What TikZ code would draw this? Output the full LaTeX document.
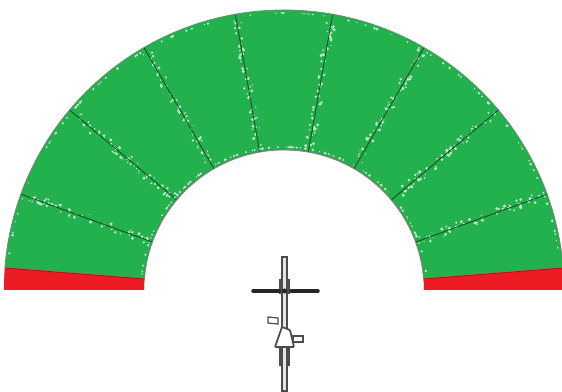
\documentclass[tikz,border=0pt]{standalone}
\usetikzlibrary{calc}
\definecolor{zonegreen}{RGB}{34,177,76}
\definecolor{zonered}{RGB}{237,28,36}
\begin{document}
\begin{tikzpicture}[
    x=0.02cm, y=0.02cm,
    rim/.style = {draw=black!50, line width=0.45pt},
    deadzone/.style = {fill=zonered},
    deadedge/.style = {draw=zonered!65!black, line width=0.4pt},
    divider/.style = {draw=black!65!zonegreen, line width=0.4pt},
    speckle/.style = {fill=white!70!zonegreen},
    frame/.style = {draw=black!70, fill=white!90!black, line width=0.7pt},
    bar/.style = {draw=black!85, line width=2pt, line cap=round},
    stem/.style = {draw=black!70, line width=1.4pt},
  ]
    \useasboundingbox (-284,-102) rectangle (278,290);
    \pgfmathsetseed{4711}

    % ring
    \fill[zonegreen] (180:280) arc[start angle=180, end angle=0, radius=280]
      -- (0:140) arc[start angle=0, end angle=180, radius=140] -- cycle;

    % white flecks along the sector lines and the rims
    \foreach \a in {20,40,60,80,100,120,140,160} {
      \foreach \k in {1,...,55} {
        \pgfmathsetmacro{\r}{145+130*rnd}
        \pgfmathsetmacro{\d}{9*rnd-4.5}
        \pgfmathsetmacro{\s}{0.6+1.1*rnd}
        \fill[speckle] ($(\a:\r)+(\a+90:\d)$) circle[radius=\s];
      }
      \draw[divider] (\a:140) -- (\a:280);
    }
    \foreach \k in {1,...,90} {
      \pgfmathsetmacro{\a}{6+168*rnd}
      \pgfmathsetmacro{\s}{0.6+0.9*rnd}
      \fill[speckle] (\a:277) circle[radius=\s];
      \pgfmathsetmacro{\a}{6+168*rnd}
      \fill[speckle] (\a:143) circle[radius=\s];
    }
    \draw[rim] (175.5:280) arc[start angle=175.5, end angle=4.5, radius=280];
    \draw[rim] (175.5:140) arc[start angle=175.5, end angle=4.5, radius=140];

    % blocked ends
    \fill[deadzone] (180:280) arc[start angle=180, end angle=175.5, radius=280]
      -- (175.5:140) arc[start angle=175.5, end angle=180, radius=140] -- cycle;
    \fill[deadzone] (0:280) arc[start angle=0, end angle=4.5, radius=280]
      -- (4.5:140) arc[start angle=4.5, end angle=0, radius=140] -- cycle;
    \draw[deadedge] (175.5:280) -- (175.5:140);
    \draw[deadedge] (4.5:280) -- (4.5:140);

    % bicycle
    \draw[stem] (-4,-4) -- (-4,11);
    \draw[stem] (5,-4) -- (5,11);
    \draw[stem] (-4,-56) -- (-4,-76);
    \draw[stem] (5,-56) -- (5,-76);
    \draw[frame] (-2,33) rectangle (3,-101);
    \draw[bar] (-31,-1) -- (-5,-1);
    \draw[bar] (7,-1) -- (34,-1);
    \fill[black!85] (0.5,-1) circle[radius=2.5];
    \draw[frame, fill=white] (-16,-27) -- (-6,-28) -- (-6,-34) -- (-16,-33) -- cycle;
    \draw[frame, fill=white] (9,-46) rectangle (19,-52);
    \draw[frame, fill=white, line width=1pt, rounded corners=0.5pt]
      (-2,-37) -- (6,-40) -- (10,-57) -- (-9,-57) -- cycle;
  \end{tikzpicture}
\end{document}
